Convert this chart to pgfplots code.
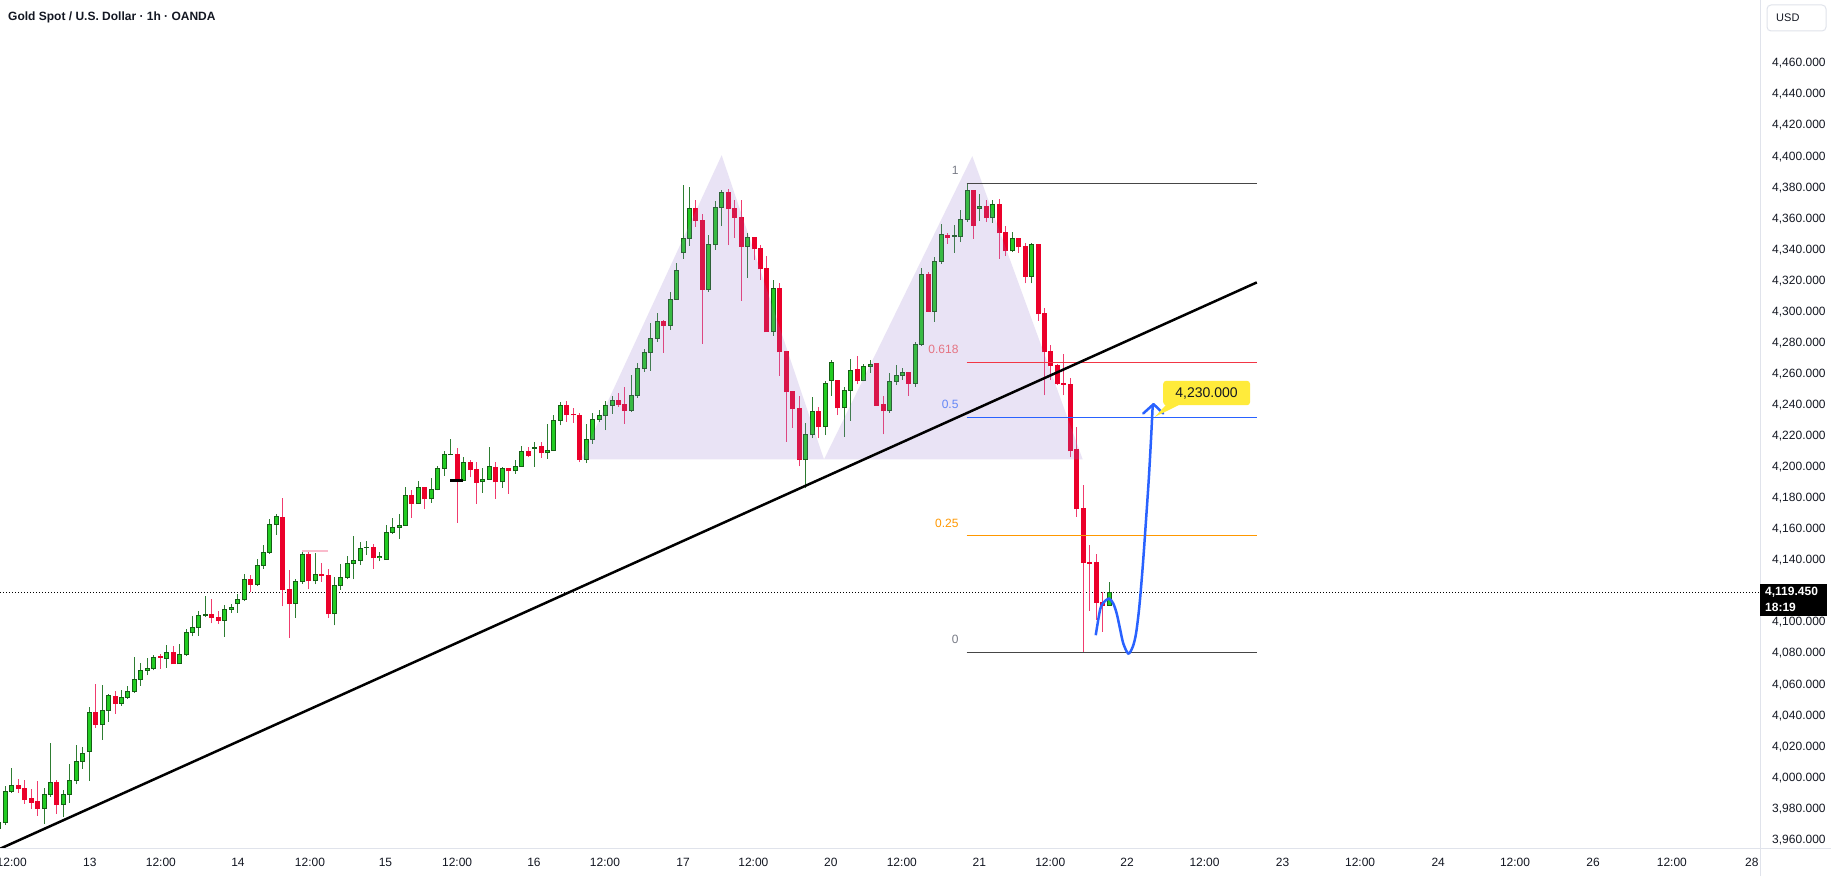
\documentclass[border=0pt]{standalone}
\usepackage{fontspec}
\setmainfont{Liberation Sans}
\usepackage{pgfplots}
\usepackage{pgfplotstable}
\pgfplotsset{compat=1.18}

\definecolor{gfill}{RGB}{34,204,34}
\definecolor{gline}{RGB}{21,94,21}
\definecolor{gwick}{RGB}{46,125,50}
\definecolor{rfill}{RGB}{235,0,42}
\definecolor{rwick}{RGB}{240,60,110}
\definecolor{tvpurple}{RGB}{149,117,205}
\definecolor{tvtext}{RGB}{19,23,34}
\definecolor{tvborder}{RGB}{224,227,235}
\definecolor{fibgray}{RGB}{70,70,70}
\definecolor{fibgraylbl}{RGB}{120,123,134}
\definecolor{fibred}{RGB}{242,54,69}
\definecolor{fibredlbl}{RGB}{229,115,130}
\definecolor{fibblue}{RGB}{41,98,255}
\definecolor{fibbluelbl}{RGB}{100,135,245}
\definecolor{fiborange}{RGB}{255,152,0}
\definecolor{curveblue}{RGB}{41,98,255}
\definecolor{tvyellow}{RGB}{255,235,59}

\pgfplotstableread{
k O H L C
-1 3967.3 3972.1 3965.9 3971.2
0 3971.2 3994.5 3969.9 3991.3
1 3991.1 4006.0 3990.5 3995.0
6 3980.2 3993.7 3970.5 3989.2
7 3989.2 4022.3 3987.7 3997.0
9 3982.8 3992.0 3974.9 3989.2
10 3989.2 4008.7 3983.8 3998.2
11 3998.2 4021.0 3995.7 4010.5
12 4010.5 4019.6 4005.7 4015.6
13 4016.9 4045.5 3998.0 4042.0
15 4034.3 4059.6 4024.4 4043.3
16 4043.3 4054.2 4036.0 4053.0
18 4047.9 4056.4 4046.3 4051.7
19 4051.7 4059.0 4051.0 4055.6
20 4055.6 4077.6 4054.8 4063.3
21 4063.3 4073.8 4059.2 4069.1
22 4069.1 4077.0 4066.1 4070.4
23 4070.4 4078.9 4069.1 4077.4
25 4076.8 4085.5 4070.8 4080.7
27 4073.4 4086.2 4073.4 4079.3
28 4079.3 4095.5 4078.7 4093.6
29 4093.6 4104.1 4091.0 4096.7
30 4096.7 4107.2 4091.4 4104.5
31 4104.5 4116.9 4103.4 4105.1
34 4101.3 4111.2 4090.8 4108.4
35 4108.4 4112.2 4106.2 4109.6
36 4112.2 4118.2 4106.4 4114.8
37 4114.8 4131.5 4113.7 4127.6
39 4124.4 4140.9 4123.6 4136.7
40 4136.7 4149.8 4134.7 4145.2
41 4145.2 4166.5 4144.0 4163.0
42 4163.0 4169.7 4156.4 4168.3
45 4112.2 4127.8 4103.0 4126.4
46 4126.4 4146.0 4125.1 4144.0
48 4126.8 4144.6 4124.6 4130.9
51 4105.6 4129.2 4098.1 4123.8
52 4123.8 4137.5 4120.8 4129.0
53 4129.0 4142.7 4127.8 4138.1
54 4138.1 4155.5 4127.8 4139.9
55 4139.9 4152.1 4136.9 4147.6
56 4148.2 4152.3 4143.6 4148.6
58 4142.0 4145.6 4139.5 4142.7
59 4140.5 4163.0 4140.5 4157.9
60 4157.9 4167.0 4156.9 4161.4
61 4161.4 4169.7 4153.9 4162.6
62 4162.6 4187.1 4162.6 4181.8
64 4176.6 4190.9 4176.6 4186.9
66 4179.6 4193.3 4177.2 4185.6
67 4185.6 4201.0 4185.0 4199.2
68 4199.2 4210.3 4194.4 4208.3
69 4208.1 4218.4 4208.1 4208.5
71 4191.7 4206.5 4191.7 4203.2
74 4190.5 4199.2 4183.7 4192.1
75 4192.1 4212.9 4192.1 4200.4
77 4190.5 4200.4 4186.7 4199.2
79 4197.6 4204.5 4195.7 4200.4
80 4200.4 4213.5 4200.4 4210.1
82 4212.2 4216.1 4200.2 4212.7
84 4209.3 4227.7 4205.4 4210.7
85 4210.7 4233.5 4210.7 4230.1
86 4230.1 4241.7 4226.9 4239.7
90 4204.9 4227.7 4202.7 4218.1
91 4218.1 4234.8 4215.0 4230.7
92 4230.7 4236.7 4229.2 4233.2
93 4233.2 4242.5 4223.8 4239.7
94 4239.7 4246.1 4234.5 4242.9
97 4236.4 4259.2 4235.6 4246.1
98 4246.1 4267.4 4244.7 4263.5
99 4263.5 4276.4 4261.6 4273.8
100 4273.8 4292.7 4262.0 4282.9
101 4282.9 4299.1 4280.9 4293.8
103 4291.2 4313.1 4288.4 4308.0
104 4308.0 4331.3 4308.0 4326.6
105 4338.2 4381.4 4334.1 4347.3
106 4347.3 4380.3 4342.6 4366.6
109 4314.4 4349.2 4312.9 4343.4
110 4343.4 4371.1 4339.9 4367.2
111 4367.2 4378.4 4355.2 4376.8
115 4342.3 4350.5 4321.9 4347.9
119 4287.2 4320.8 4284.6 4315.1
124 4204.9 4228.7 4186.3 4221.0
125 4221.0 4245.1 4218.8 4236.0
127 4225.9 4255.2 4220.6 4253.8
128 4255.6 4268.9 4245.9 4267.6
130 4238.2 4251.8 4219.6 4249.3
131 4249.3 4269.5 4229.9 4262.5
133 4255.6 4266.7 4255.2 4264.8
134 4264.8 4268.9 4260.9 4266.1
137 4236.2 4260.7 4235.0 4255.2
138 4255.2 4266.1 4252.8 4259.0
139 4259.0 4263.9 4256.4 4260.7
141 4254.2 4280.7 4251.8 4279.2
142 4279.2 4328.2 4278.1 4324.2
144 4300.5 4335.5 4293.6 4332.7
145 4332.7 4356.5 4331.1 4349.8
147 4348.8 4355.8 4338.0 4349.3
148 4348.3 4365.3 4344.9 4359.5
149 4359.5 4382.7 4358.1 4378.2
151 4366.6 4376.0 4358.4 4368.1
153 4360.6 4371.9 4357.3 4369.3
156 4339.3 4351.3 4338.5 4347.2
159 4323.0 4344.6 4318.3 4343.4
171 4111.0 4126.0 4111.0 4119.45
}\greentab

\pgfplotstableread{
k O H L C
2 3995.0 3999.5 3990.3 3992.9
3 3993.1 3998.9 3983.4 3986.0
4 3986.6 3993.1 3980.2 3984.4
5 3984.6 3997.8 3975.5 3980.2
8 3997.0 3998.4 3976.9 3982.8
14 4042.0 4060.2 4032.1 4034.3
17 4052.3 4055.8 4041.2 4047.9
24 4077.9 4079.6 4070.2 4077.4
26 4080.7 4084.7 4073.4 4073.4
32 4105.1 4115.4 4099.5 4103.2
33 4103.2 4107.2 4099.1 4101.3
38 4127.6 4130.6 4119.5 4124.4
43 4167.8 4180.2 4110.4 4121.2
44 4121.2 4134.1 4090.1 4112.2
47 4144.0 4146.6 4121.5 4126.8
49 4131.1 4138.1 4126.2 4130.0
50 4130.2 4134.3 4103.0 4105.6
57 4148.6 4150.4 4134.5 4141.6
63 4181.8 4185.2 4167.4 4176.6
65 4186.9 4187.5 4173.1 4179.6
70 4208.3 4212.2 4164.2 4191.7
72 4203.2 4204.5 4193.5 4198.5
73 4198.5 4203.2 4176.4 4190.3
76 4199.8 4203.2 4179.6 4190.5
78 4199.2 4199.6 4182.8 4197.6
81 4210.1 4212.9 4206.7 4207.5
83 4213.3 4216.1 4206.2 4209.3
87 4239.7 4242.5 4229.2 4233.9
88 4234.1 4238.4 4228.5 4233.7
89 4233.2 4234.6 4203.2 4204.9
95 4242.9 4247.7 4238.8 4240.4
96 4240.4 4251.5 4227.9 4236.4
102 4293.8 4295.1 4273.6 4291.2
107 4366.6 4372.3 4354.7 4358.8
108 4358.8 4363.0 4279.4 4314.4
112 4376.8 4379.4 4343.0 4366.3
113 4366.3 4371.9 4347.7 4360.8
114 4360.8 4371.9 4307.1 4342.3
116 4347.9 4348.3 4333.7 4340.6
117 4340.6 4342.8 4320.4 4327.7
118 4328.2 4336.3 4287.2 4287.2
120 4315.1 4318.3 4258.8 4274.2
121 4274.6 4274.7 4216.3 4248.5
122 4248.9 4249.0 4225.5 4237.6
123 4237.8 4245.7 4200.6 4204.9
126 4236.0 4238.6 4218.8 4225.9
129 4256.0 4256.0 4233.5 4238.2
132 4263.1 4271.4 4253.8 4255.6
135 4267.0 4267.0 4239.9 4239.9
136 4240.4 4246.1 4221.2 4236.2
140 4260.9 4260.9 4245.9 4254.2
143 4324.2 4325.6 4300.1 4300.5
146 4349.4 4350.9 4344.0 4347.9
150 4378.2 4378.2 4347.0 4355.8
152 4368.1 4372.3 4357.8 4360.6
154 4369.3 4373.0 4334.1 4350.9
155 4351.3 4355.6 4335.9 4339.3
157 4347.2 4347.9 4338.0 4341.8
158 4342.1 4344.6 4318.3 4323.0
160 4343.4 4343.4 4294.2 4298.7
161 4298.9 4302.2 4246.3 4274.2
162 4274.6 4278.5 4256.0 4265.3
163 4265.7 4266.7 4252.8 4253.8
164 4253.8 4272.8 4246.3 4253.4
165 4253.2 4257.7 4206.3 4210.5
166 4211.4 4225.7 4168.0 4173.1
167 4173.3 4188.4 4080.9 4138.6
168 4138.6 4150.2 4107.5 4138.2
169 4138.6 4144.0 4101.9 4112.8
170 4112.8 4119.7 4094.0 4111.0
}\redtab

\begin{document}
\begin{tikzpicture}[x=1pt,y=1pt]
\fill[white] (-200,-200) rectangle (2100,1100);
\begin{axis}[
  at={(0,28)}, anchor=south west,
  width=1760pt, height=848pt, scale only axis,
  xmin=-0.821, xmax=271.86, ymin=3954.80, ymax=4500.84,
  axis line style={draw=none},
  major tick length=0pt,
  xtick pos=bottom, ytick pos=right,
  xticklabel pos=lower, yticklabel pos=right,
  scaled ticks=false,
  xtick={1,13.1,24.1,36.05,47.2,58.9,70,81.9,92.9,105,115.9,127.9,138.9,150.9,161.9,173.8,185.8,197.9,209.9,222,233.9,246,258.2,270.6},
  xticklabels={12:00,13,12:00,14,12:00,15,12:00,16,12:00,17,12:00,20,12:00,21,12:00,22,12:00,23,12:00,24,12:00,26,12:00,28},
  ytick={3960,3980,4000,4020,4040,4060,4080,4100,4120,4140,4160,4180,4200,4220,4240,4260,4280,4300,4320,4340,4360,4380,4400,4420,4440,4460},
  yticklabel={\pgfmathprintnumber[fixed,fixed zerofill,precision=3,1000 sep={,},assume math mode=true]{\tick}},
  tick label style={font=\fontsize{12}{14}\selectfont, text=tvtext},
  yticklabel style={anchor=west, inner sep=0pt, xshift=12pt},
  xticklabel style={anchor=center, inner sep=0pt, yshift=-14pt},
  clip=true,
]
% current price dotted line
\addplot[black, line width=1pt, dash pattern=on 1pt off 2pt] coordinates {(-0.821,4119.45) (271.86,4119.45)};

% wicks
\addplot[gwick, line width=1pt, quiver={u=0, v=\thisrow{H}-\thisrow{L}}] table[x=k, y=L] {\greentab};
\addplot[rwick, line width=1pt, quiver={u=0, v=\thisrow{H}-\thisrow{L}}] table[x=k, y=L] {\redtab};
% green bodies: border then fill
\addplot[gline, line width=5pt, quiver={u=0, v=\thisrow{C}-\thisrow{O}+0.644}] table[x=k, y expr=\thisrow{O}-0.322] {\greentab};
\addplot[gfill, line width=3pt, quiver={u=0, v={max(\thisrow{C}-\thisrow{O}-0.644,0)}}] table[x=k, y expr=\thisrow{O}+0.322] {\greentab};
% red bodies
\addplot[rfill, line width=5pt, quiver={u=0, v=\thisrow{O}-\thisrow{C}+0.644}] table[x=k, y expr=\thisrow{C}-0.322] {\redtab};

% small annotation marks
\addplot[black, line width=3pt] coordinates {(68.9,4191.3) (70.96,4191.3)};
\addplot[rwick!35!white, line width=1.2pt] coordinates {(46.0,4146.0) (50.0,4146.0)};

% double top shading
\addplot[draw=none, fill=tvpurple, fill opacity=0.2] coordinates {(89.19,4205.0) (110.99,4400.9) (126.84,4205.0) (149.82,4400.3) (166.92,4205.0)};

% fib levels
\addplot[fibgray, line width=1.3pt] coordinates {(148.95,4382.7) (194.0,4382.7)};
\addplot[fibred, line width=1.3pt] coordinates {(148.95,4267.6) (194.0,4267.6)};
\addplot[fibblue, line width=1.3pt] coordinates {(148.95,4232.0) (194.0,4232.0)};
\addplot[fiborange, line width=1.3pt] coordinates {(148.95,4155.9) (194.0,4155.9)};
\addplot[fibgray, line width=1.3pt] coordinates {(148.95,4080.9) (194.0,4080.9)};
\node[anchor=east, inner sep=0pt, text=fibgraylbl, font=\fontsize{12}{14}\selectfont] at (axis cs:147.7,4390.9) {1};
\node[anchor=east, inner sep=0pt, text=fibredlbl, font=\fontsize{12}{14}\selectfont] at (axis cs:147.7,4275.8) {0.618};
\node[anchor=east, inner sep=0pt, text=fibbluelbl, font=\fontsize{12}{14}\selectfont] at (axis cs:147.7,4240.2) {0.5};
\node[anchor=east, inner sep=0pt, text=fiborange, font=\fontsize{12}{14}\selectfont] at (axis cs:147.7,4164.1) {0.25};
\node[anchor=east, inner sep=0pt, text=fibgraylbl, font=\fontsize{12}{14}\selectfont] at (axis cs:147.7,4089.1) {0};

% trend line
\addplot[black, line width=2.5pt] coordinates {(-0.821,3954.3) (193.9,4319.0)};

% projected path
\addplot[curveblue, line width=2.5pt, smooth, tension=0.5] coordinates {
(168.94,4091.8) (169.6,4107.9) (170.11,4112.6) (171.0,4115.4) (171.66,4112.2) (172.19,4105.8) (172.7,4096.1) (173.21,4086.5) (173.99,4080.0) (174.67,4084.3) (175.18,4092.8) (175.69,4110.0) (176.22,4135.9) (176.73,4165.8) (177.15,4191.7) (177.5,4217.4) (177.77,4239.9)};
\addplot[curveblue, line width=2.5pt, line join=round, line cap=round] coordinates {(176.3,4234.6) (177.9,4240.6) (179.4,4234.6)};

% target label
\fill[tvyellow] (axis cs:179.8,4240.0) -- (axis cs:181.8,4240.0) -- (axis cs:178.1,4232.4) -- cycle;
\fill[tvyellow, rounded corners=3pt] (axis cs:179.4,4239.9) rectangle (axis cs:192.85,4255.6);
\node[text=tvtext, font=\fontsize{14}{16}\selectfont] at (axis cs:186.1,4247.6) {4,230.000};

\coordinate (PA) at (rel axis cs:0,0);
\end{axis}

\pgfresetboundingbox
\path[use as bounding box] ([shift={(0,-28)}]PA) rectangle ([shift={(1831,848)}]PA);

% frame lines
\draw[tvborder, line width=1pt] ([shift={(0,0)}]PA) -- ([shift={(1831,0)}]PA);
\draw[tvborder, line width=1pt] ([shift={(1760,-28)}]PA) -- ([shift={(1760,848)}]PA);

% title
\node[anchor=base west, inner sep=0pt, text=tvtext, font=\bfseries\fontsize{12}{14}\selectfont] at ([shift={(8,827.3)}]PA) {Gold Spot / U.S. Dollar · 1h · OANDA};

% currency button
\draw[tvborder, line width=1pt, fill=white, rounded corners=4pt] ([shift={(1767,817)}]PA) rectangle ([shift={(1826,843)}]PA);
\node[anchor=west, inner sep=0pt, text=tvtext, font=\fontsize{11}{13}\selectfont] at ([shift={(1776,830)}]PA) {USD};

% current price label
\fill[black] ([shift={(1760,232)}]PA) rectangle ([shift={(1827,264)}]PA);
\node[anchor=west, inner sep=0pt, text=white, font=\bfseries\fontsize{12}{14}\selectfont] at ([shift={(1765,255.7)}]PA) {4,119.450};
\node[anchor=west, inner sep=0pt, text=white, font=\bfseries\fontsize{12}{14}\selectfont] at ([shift={(1765,240.5)}]PA) {18:19};
\end{tikzpicture}
\end{document}
